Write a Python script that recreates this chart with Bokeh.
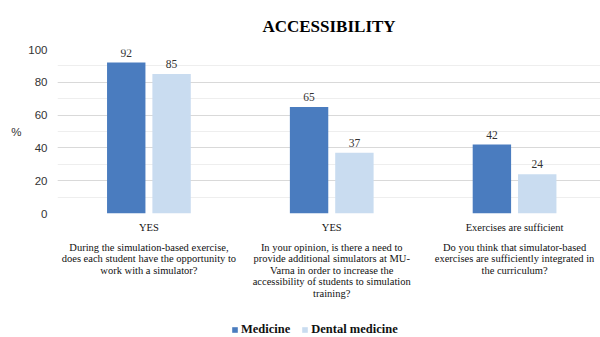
from bokeh.plotting import figure
from bokeh.models import (ColumnDataSource, LabelSet, LinearAxis, FixedTicker,
                          SingleIntervalTicker, Legend, LegendItem)
from bokeh.layouts import column
from bokeh.embed import file_html
from bokeh.resources import INLINE

categories = ["YES", "YES", "Exercises are sufficient"]
questions = [
    "During the simulation-based exercise,\ndoes each student have the opportunity to\nwork with a simulator?",
    "In your opinion, is there a need to\nprovide additional simulators at MU-\nVarna in order to increase the\naccessibility of students to simulation\ntraining?",
    "Do you think that simulator-based\nexercises are sufficiently integrated in\nthe curriculum?",
]
medicine = [92, 65, 42]
dental = [85, 37, 24]
series_names = ["Medicine", "Dental medicine"]
colors = ["#4A7CBF", "#C9DCF0"]
y_label = "%"

xs = list(range(len(categories)))
off = 0.124
bw = 0.21

src_m = ColumnDataSource(dict(x=[x - off for x in xs], top=medicine, lab=[str(v) for v in medicine]))
src_d = ColumnDataSource(dict(x=[x + off for x in xs], top=dental, lab=[str(v) for v in dental]))

p = figure(width=600, height=320, x_range=(-0.5, 2.47), y_range=(0, 100),
           output_backend="svg", toolbar_location=None,
           min_border_left=57, min_border_right=0, min_border_top=49, min_border_bottom=107)
p.outline_line_color = None
p.background_fill_color = "white"

p.title.text = "ACCESSIBILITY"
p.title.align = "center"
p.title.text_font = "Liberation Serif"
p.title.text_font_style = "bold"
p.title.text_font_size = "17px"
p.title.text_color = "#000000"
p.title.standoff = 27

p.vbar(x="x", top="top", width=bw, source=src_m, fill_color=colors[0], line_color=None)
p.vbar(x="x", top="top", width=bw, source=src_d, fill_color=colors[1], line_color=None)

for src in (src_m, src_d):
    p.add_layout(LabelSet(x="x", y="top", text="lab", source=src, y_offset=6,
                          text_align="center", text_baseline="bottom",
                          text_font="Liberation Sans", text_font_size="11.5px",
                          text_color="#333333"))

def style_axis(ax, standoff, font, size):
    ax.axis_line_color = None
    ax.major_tick_line_color = None
    ax.minor_tick_line_color = None
    ax.major_tick_out = 0
    ax.major_tick_in = 0
    ax.minor_tick_out = 0
    ax.minor_tick_in = 0
    ax.major_label_standoff = standoff
    ax.major_label_text_font = font
    ax.major_label_text_font_size = size

ya = p.yaxis[0]
ya.ticker = SingleIntervalTicker(interval=20, num_minor_ticks=2)
style_axis(ya, 10, "Liberation Sans", "11.5px")
ya.major_label_text_color = "#333333"
p.ygrid.grid_line_color = "#D9D9D9"
p.ygrid.minor_grid_line_color = "#EEEEEE"
p.ygrid.ticker = ya.ticker
p.xgrid.grid_line_color = None

pa = LinearAxis(ticker=FixedTicker(ticks=[50]), major_label_overrides={50: y_label})
style_axis(pa, 4, "Liberation Sans", "11.5px")
pa.major_label_text_color = "#333333"
p.add_layout(pa, "left")

xa = p.xaxis[0]
xa.ticker = FixedTicker(ticks=xs)
style_axis(xa, 8, "Liberation Serif", "10.5px")
xa.major_label_text_color = "#111111"
xa.major_label_overrides = {i: c for i, c in enumerate(categories)}

qa = LinearAxis(ticker=FixedTicker(ticks=xs))
style_axis(qa, 6, "Liberation Serif", "10.5px")
qa.major_label_text_color = "#111111"
qa.major_label_text_line_height = 1.05
qa.major_label_overrides = {i: q for i, q in enumerate(questions)}
p.add_layout(qa, "below")

# legend strip (its frame is aligned with the main frame by the column layout)
lg = figure(width=600, height=17, x_range=(0, 1), y_range=(0, 1),
            output_backend="svg", toolbar_location=None,
            x_axis_type=None, y_axis_type=None,
            min_border_left=0, min_border_right=0, min_border_top=0, min_border_bottom=0)
lg.outline_line_color = None
lg.xgrid.grid_line_color = None
lg.ygrid.grid_line_color = None
lr_m = lg.vbar(x="x", top="top", width=bw, source=src_m, fill_color=colors[0], line_color=None, visible=False)
lr_d = lg.vbar(x="x", top="top", width=bw, source=src_d, fill_color=colors[1], line_color=None, visible=False)
legend = Legend(items=[LegendItem(label=series_names[0], renderers=[lr_m]),
                       LegendItem(label=series_names[1], renderers=[lr_d])],
                orientation="horizontal", location=(174, 0),
                label_text_font="Liberation Serif", label_text_font_style="bold",
                label_text_font_size="12.5px", label_text_color="#111111",
                glyph_width=7, glyph_height=7, label_standoff=3, spacing=11,
                padding=0, margin=0, border_line_color=None, background_fill_alpha=0)
lg.add_layout(legend, "center")

layout = column(p, lg, spacing=0)
open("out.html", "w").write(file_html(layout, INLINE))
